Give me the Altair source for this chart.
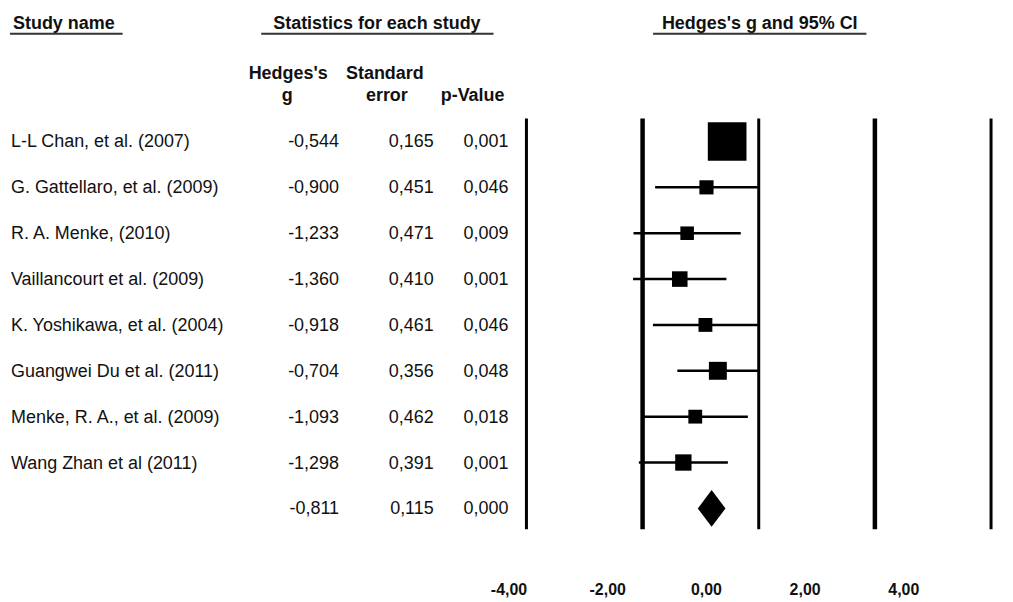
import altair as alt
import pandas as pd

# ---------------- data ----------------
studies = [
    "L-L Chan, et al. (2007)",
    "G. Gattellaro, et al. (2009)",
    "R. A. Menke, (2010)",
    "Vaillancourt et al. (2009)",
    "K. Yoshikawa, et al. (2004)",
    "Guangwei Du et al. (2011)",
    "Menke, R. A., et al. (2009)",
    "Wang Zhan et al (2011)",
]
hedges_g = [-0.544, -0.900, -1.233, -1.360, -0.918, -0.704, -1.093, -1.298]
std_err = [0.165, 0.451, 0.471, 0.410, 0.461, 0.356, 0.462, 0.391]
p_values = [0.001, 0.046, 0.009, 0.001, 0.046, 0.048, 0.018, 0.001]
summary_g = [-0.811]
summary_se = [0.115]
summary_p = [0.000]
tick_values = [-4, -2, 0, 2, 4]

FONT = "Liberation Sans"
TXT = "#111111"

n = len(studies)
studies_df = pd.DataFrame({"study": studies, "g": hedges_g, "se": std_err,
                           "p": p_values, "row": list(range(n))})
summary_df = pd.DataFrame({"study": [""], "g": summary_g, "se": summary_se,
                           "p": summary_p, "row": [n]})
all_df = pd.concat([studies_df, summary_df], ignore_index=True)
ticks_df = pd.DataFrame({"tick": tick_values})

x_scale = alt.Scale(domain=[-4, 4], range=[520, 986], nice=False, zero=False)
y_scale = alt.Scale(domain=[0, n], range=[133, 501], nice=False, zero=False)
X = lambda f: alt.X(f, scale=x_scale, axis=None)
Y = alt.Y("row:Q", scale=y_scale, axis=None)

def comma(field, digits):
    return (f"(datum.{field} < 0 ? '-' : '') + "
            f"replace(format(abs(datum.{field}), '.{digits}f'), '.', ',')")

# vertical reference lines
vlines = alt.Chart(ticks_df).mark_rule(color="black").encode(
    x=X("tick:Q"),
    y=alt.value(110), y2=alt.value(522),
    strokeWidth=alt.condition("abs(datum.tick) == 2", alt.value(4.5), alt.value(3)),
)

# confidence intervals
ci = alt.Chart(studies_df).transform_calculate(
    lo="datum.g - 1.96 * datum.se", hi="datum.g + 1.96 * datum.se"
).mark_rule(color="black", strokeWidth=2.5).encode(
    x=X("lo:Q"), x2="hi:Q", y=Y
)

# study squares (area ~ inverse variance weight)
squares = alt.Chart(studies_df).transform_calculate(
    area="pow(6.4 / datum.se, 2)"
).mark_square(color="black", opacity=1).encode(
    x=X("g:Q"), y=Y, size=alt.Size("area:Q", scale=None, legend=None)
)

# summary diamond
diamond = alt.Chart(summary_df).mark_point(
    shape="M0,-1L0.75,0L0,1L-0.75,0Z", filled=True, color="black",
    opacity=1, size=1369
).encode(x=X("g:Q"), y=Y)

# row texts
txt_kw = dict(baseline="middle", font=FONT, fontSize=18, color=TXT, dy=1)
names = alt.Chart(all_df).mark_text(align="left", **txt_kw).encode(
    x=alt.value(3), y=Y, text="study:N")
g_txt = alt.Chart(all_df).transform_calculate(t=comma("g", 3)).mark_text(
    align="right", **txt_kw).encode(x=alt.value(332), y=Y, text="t:N")
se_txt = alt.Chart(all_df).transform_calculate(t=comma("se", 3)).mark_text(
    align="right", **txt_kw).encode(x=alt.value(427), y=Y, text="t:N")
p_txt = alt.Chart(all_df).transform_calculate(t=comma("p", 3)).mark_text(
    align="right", **txt_kw).encode(x=alt.value(502), y=Y, text="t:N")

# headers
def header(text, x, y, align="center"):
    return alt.Chart(ticks_df.head(1)).mark_text(
        text=text, align=align, baseline="alphabetic", font=FONT, fontSize=18,
        fontWeight="bold", color=TXT
    ).encode(x=alt.value(x), y=alt.value(y))

def underline(x1, x2):
    return alt.Chart(ticks_df.head(1)).mark_rule(color="#333333", strokeWidth=2).encode(
        x=alt.value(x1), x2=alt.value(x2), y=alt.value(25))

headers = [
    header("Study name", 5, 20, "left"),
    header("Statistics for each study", 370, 20),
    header("Hedges's g and 95% CI", 754, 20),
    header("Hedges's", 281, 70),
    header("g", 280, 92),
    header("Standard", 378, 70),
    header("error", 380, 92),
    header("p-Value", 466, 92),
    underline(2, 115),
    underline(254, 487),
    underline(647, 861),
]

# bottom axis labels
axis_layer = alt.Chart(ticks_df).mark_point(opacity=0).encode(
    x=alt.X("tick:Q",
            scale=alt.Scale(domain=[-4, 4], range=[502, 898], nice=False, zero=False),
            axis=alt.Axis(values=tick_values, orient="bottom", title=None,
                          labelExpr="(datum.value < 0 ? '-' : '') + replace(format(abs(datum.value), '.2f'), '.', ',')",
                          domain=False, ticks=False, grid=False,
                          labelFont=FONT, labelFontSize=16, labelFontWeight="bold",
                          labelColor=TXT, labelPadding=7, labelBaseline="middle",
                          labelFlush=False, labelOverlap=False))
)

chart = alt.layer(
    vlines, ci, squares, diamond, names, g_txt, se_txt, p_txt, *headers, axis_layer
).resolve_scale(x="independent").properties(
    width=1000, height=575, padding=0, background="white"
).configure_view(stroke=None)

chart.save("out.html", embed_options={"renderer": "svg", "actions": False})
